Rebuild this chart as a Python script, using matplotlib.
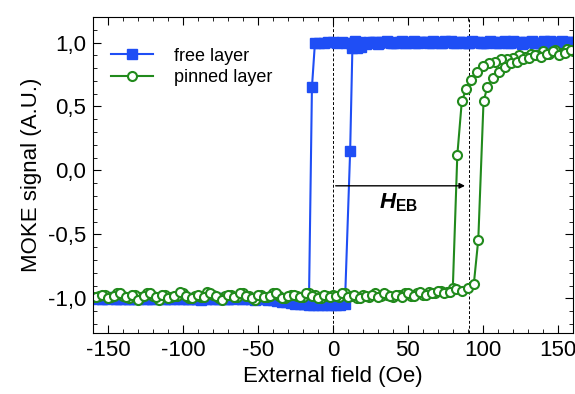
import numpy as np
import matplotlib
matplotlib.use("Agg")
import matplotlib.pyplot as plt
from matplotlib.ticker import MultipleLocator, FuncFormatter

plt.rcParams['font.family'] = ['Liberation Sans', 'DejaVu Sans']
plt.rcParams['axes.unicode_minus'] = False
plt.rcParams['mathtext.fontset'] = 'custom'
plt.rcParams['mathtext.rm'] = 'Liberation Sans'
plt.rcParams['mathtext.bf'] = 'Liberation Sans:bold'
plt.rcParams['mathtext.it'] = 'Liberation Sans:italic'
plt.rcParams['mathtext.bfit'] = 'Liberation Sans:italic:bold'

# free layer, field sweep down (159 -> -160 Oe)
free_dn_field = np.r_[np.arange(159, -13, -3), -14, np.arange(-16, -161, -3)]
free_dn_hi = [1.005, 0.998, 1.010, 1.002, 0.995, 1.008, 1.012, 1.000, 0.996, 1.006,
              1.003, 0.992, 1.004, 1.010, 0.999, 1.001, 0.994, 1.007, 1.011, 1.000,
              0.997, 1.005, 1.009, 0.993, 1.002, 1.006, 0.998, 1.004, 1.012, 0.996,
              1.001, 0.995, 1.008, 1.003, 0.999, 1.010, 1.002, 0.994, 1.006, 1.000,
              0.997, 1.009, 1.004, 0.992, 1.001, 1.007, 0.998, 1.003, 1.011, 0.996,
              1.000, 1.005, 0.993, 1.002, 1.008, 0.999, 0.995, 0.998]
free_dn_mid = [0.65]
free_dn_lo = [-1.030, -1.040, -1.035, -1.030, -1.025, -1.020, -1.018, -1.012, -1.008, -1.005,
              -0.998, -1.004, -1.010, -1.002, -0.996, -1.006, -1.000, -0.994, -1.003, -1.008,
              -0.999, -1.005, -0.995, -1.002, -1.009, -1.001, -0.997, -1.004, -1.007, -0.998,
              -1.003, -0.994, -1.006, -1.000, -0.996, -1.005, -1.002, -0.999, -1.008, -0.995,
              -1.001, -1.004, -0.997, -1.006, -1.000, -0.993, -1.003, -0.998, -1.002]

# free layer, field sweep up (-160 -> 160 Oe)
free_up_field = np.r_[np.arange(-160, 11, 3), 11.5, np.arange(13, 161, 3)]
free_up_lo = [-1.000, -0.996, -1.004, -1.002, -0.998, -1.006, -1.001, -0.995, -1.003, -1.007,
              -0.999, -1.002, -0.997, -1.005, -1.000, -0.994, -1.004, -1.008, -0.999, -1.003,
              -0.996, -1.001, -1.006, -1.002, -0.998, -1.004, -1.000, -1.007, -1.003, -0.997,
              -1.005, -1.001, -0.996, -1.004, -1.000, -1.006, -1.002, -0.998, -1.008, -1.010,
              -1.015, -1.020, -1.025, -1.030, -1.035, -1.040, -1.042, -1.045, -1.048, -1.050,
              -1.052, -1.055, -1.050, -1.048, -1.052, -1.055, -1.045]
free_up_mid = [0.155]
free_up_hi = [0.960, 0.955, 0.965, 0.985, 0.998, 1.004, 0.996, 1.008, 1.002, 0.995,
              1.006, 1.010, 0.999, 1.003, 0.994, 1.007, 1.001, 0.997, 1.009, 1.004,
              0.998, 1.002, 1.011, 0.996, 1.005, 1.000, 0.993, 1.006, 1.003, 0.999,
              1.008, 1.001, 0.995, 1.004, 1.010, 0.998, 1.002, 1.006, 0.997, 1.003,
              1.009, 1.000, 0.996, 1.005, 1.012, 1.001, 0.998, 1.004, 1.007, 1.002]

# pinned layer, field sweep down
pin_dn_field = np.r_[np.arange(160, 88, -4), [89, 86, 83], np.arange(80, -161, -4)]
pin_dn_hi = [0.93, 0.95, 0.92, 0.94, 0.91, 0.93, 0.90, 0.91, 0.89, 0.90,
             0.88, 0.87, 0.87, 0.85, 0.84, 0.82, 0.77, 0.71]
pin_dn_mid = [0.64, 0.54, 0.12]
pin_dn_lo = [-0.92, -0.95, -0.94, -0.96, -0.95, -0.97, -0.96, -0.98, -0.96, -0.97,
             -0.99, -0.97, -0.98, -0.96, -0.99, -0.97, -1.00, -0.98, -0.96, -0.99,
             -0.97, -0.98, -1.00, -0.97, -0.96, -0.99, -0.98, -0.97, -1.00, -0.98,
             -0.96, -0.99, -0.97, -1.01, -0.98, -0.96, -0.99, -0.97, -0.98, -1.00,
             -0.97, -0.95, -0.99, -0.98, -1.00, -0.96, -0.98, -0.99, -0.97, -1.01,
             -0.98, -0.96, -0.99, -0.97, -1.00, -0.98, -0.96, -0.99, -0.97, -0.98,
             -0.99]

# pinned layer, field sweep up
pin_up_field = np.r_[np.arange(-158, 95, 4), [97, 100.5], np.arange(103, 160, 4)]
pin_up_lo = [-0.99, -0.97, -1.00, -0.98, -0.96, -0.99, -0.97, -1.01, -0.98, -0.96,
             -0.99, -0.97, -1.00, -0.98, -0.95, -0.98, -1.00, -0.97, -0.99, -0.96,
             -0.98, -1.01, -0.97, -0.99, -0.96, -0.98, -1.00, -0.97, -0.99, -0.98,
             -0.96, -1.00, -0.98, -0.97, -0.99, -0.96, -0.98, -1.00, -0.97, -0.99,
             -0.98, -0.96, -0.99, -0.97, -1.00, -0.98, -0.97, -0.99, -0.96, -0.98,
             -0.97, -0.99, -0.96, -0.98, -0.95, -0.97, -0.96, -0.94, -0.96, -0.95,
             -0.93, -0.94, -0.92, -0.89]
pin_up_mid = [-0.54, 0.54]
pin_up_hi = [0.65, 0.72, 0.77, 0.81, 0.84, 0.85, 0.87, 0.88, 0.90, 0.89,
             0.91, 0.93, 0.90, 0.92, 0.94]

H_EB = 91

blue = '#1f4ef5'
green = '#218a1c'

fig = plt.figure(figsize=(5.75, 3.94), dpi=100)
ax = fig.add_axes([0.162, 0.155, 0.834, 0.802])

sq = dict(color=blue, lw=1.5, marker='s', ms=7.5, mec=blue, mfc=blue)
ax.plot(free_dn_field, free_dn_hi + free_dn_mid + free_dn_lo, label='free layer', **sq)
ax.plot(free_up_field, free_up_lo + free_up_mid + free_up_hi, **sq)

ci = dict(color=green, lw=1.5, marker='o', ms=6.5, mec=green, mfc='white', mew=1.5)
ax.plot(pin_dn_field, pin_dn_hi + pin_dn_mid + pin_dn_lo, label='pinned layer', **ci)
ax.plot(pin_up_field, pin_up_lo + pin_up_mid + pin_up_hi, **ci)

ax.axvline(0, color='black', lw=0.7, ls=(0, (3, 2)), zorder=1)
ax.axvline(H_EB, color='black', lw=0.7, ls=(0, (3, 2)), zorder=1)
ax.annotate('', xy=(H_EB - 1, -0.12), xytext=(0, -0.12),
            arrowprops=dict(arrowstyle='-|>', color='black', lw=1, mutation_scale=8))
ax.text(44, -0.25, r'$\mathbfit{H}_{\mathbf{EB}}$', fontsize=16, ha='center', va='center')

ax.set_xlim(-160, 160)
ax.set_ylim(-1.27, 1.2)
ax.xaxis.set_major_locator(MultipleLocator(50))
ax.xaxis.set_minor_locator(MultipleLocator(10))
ax.yaxis.set_major_locator(MultipleLocator(0.5))
ax.yaxis.set_minor_locator(MultipleLocator(0.1))
ax.yaxis.set_major_formatter(FuncFormatter(lambda v, p: ('%.1f' % v).replace('.', ',')))
ax.tick_params(which='both', direction='in', top=True, right=True, labelsize=16)
ax.tick_params(which='major', length=6, pad=5)
ax.tick_params(which='minor', length=3)

ax.set_xlabel('External field (Oe)', fontsize=16, labelpad=4)
ax.set_ylabel('MOKE signal (A.U.)', fontsize=16, labelpad=4)

ax.legend(loc='upper left', frameon=False, fontsize=13, handlelength=2.3,
          handletextpad=1.2, labelspacing=0.25,
          bbox_to_anchor=(0.0, 0.96), borderaxespad=0.6)

fig.savefig('out.png', dpi=100)
